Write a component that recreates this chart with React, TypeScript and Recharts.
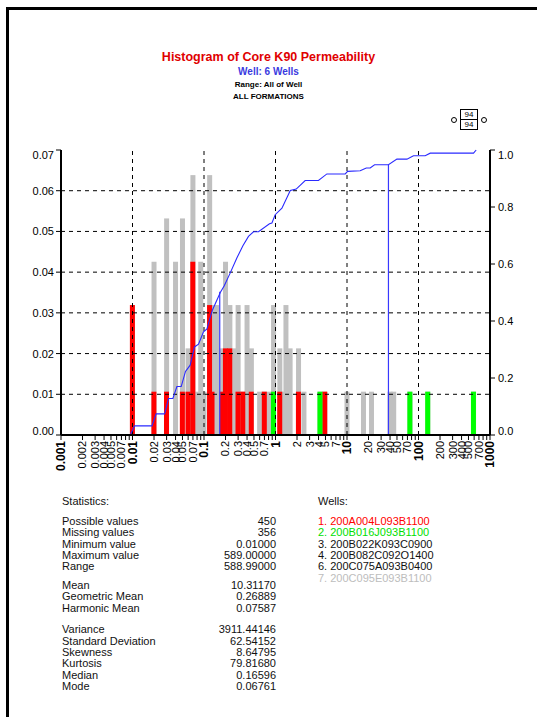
import React from 'react';
import { ComposedChart, Bar, Line, XAxis, YAxis, ReferenceLine } from 'recharts';

const FONT = 'Arial, "Liberation Sans", sans-serif';

const sampleCount = 94;

// permeability bins (mD) and sample counts in each bin
const binValues = [
  0.01, 0.02, 0.03, 0.04, 0.05, 0.06, 0.07, 0.08, 0.09, 0.1,
  0.12, 0.13, 0.15, 0.18, 0.2, 0.23, 0.26, 0.3, 0.35, 0.4,
  0.46, 0.6, 0.7, 0.82, 0.94, 1.15, 1.3, 1.4, 1.6, 2.1,
  2.5, 4.2, 4.9, 10, 17, 22, 40, 45, 76, 135,
  589,
];
const allWellCounts = [
  3, 4, 5, 4, 5, 2, 6, 1, 4, 1,
  6, 3, 3, 2, 4, 3, 2, 3, 1, 3,
  2, 1, 1, 1, 3, 2, 1, 3, 2, 2,
  1, 1, 1, 1, 1, 1, 1, 1, 1, 1,
  1,
];
const well1Counts = [
  3, 1, 1, 0, 1, 1, 4, 0, 0, 0,
  3, 1, 0, 1, 2, 2, 0, 1, 1, 0,
  1, 0, 1, 0, 0, 1, 0, 0, 0, 1,
  0, 0, 1, 0, 0, 0, 0, 0, 0, 0,
  0,
];
const well2Counts = [
  0, 0, 0, 0, 0, 0, 0, 0, 0, 0,
  0, 0, 0, 0, 0, 0, 0, 0, 0, 0,
  0, 0, 0, 0, 1, 0, 0, 0, 0, 0,
  0, 1, 0, 0, 0, 0, 0, 0, 1, 1,
  1,
];

// cumulative curve
const cumX = [
  0.0093, 0.0107, 0.0187, 0.0214, 0.0281, 0.0319, 0.0367, 0.0418, 0.048, 0.0551,
  0.0641, 0.0736, 0.0838, 0.0984, 0.11, 0.13, 0.169, 0.192, 0.232, 0.288,
  0.35, 0.419, 0.492, 0.578, 0.824, 0.891, 0.99, 1.23, 1.61, 1.95,
  2.6, 3.99, 5.23, 9.44, 10.2, 15.3, 18.6, 21.1, 24.3, 38,
  49.9, 68.9, 85.1, 124, 146, 588, 641,
];
const cumY = [
  0, 0.032, 0.032, 0.074, 0.074, 0.128, 0.128, 0.17, 0.17, 0.223,
  0.245, 0.309, 0.319, 0.362, 0.372, 0.436, 0.5, 0.524, 0.568, 0.621,
  0.664, 0.697, 0.713, 0.713, 0.741, 0.744, 0.773, 0.796, 0.858, 0.863,
  0.893, 0.893, 0.916, 0.916, 0.925, 0.927, 0.937, 0.937, 0.948, 0.948,
  0.968, 0.968, 0.98, 0.98, 0.989, 0.989, 1.0,
];

// vertical markers (median and cut-off) up to the curve
const markerX = [0.166, 38];
const markerTop = [0.503, 0.948];

const decades = [0.001, 0.01, 0.1, 1, 10, 100];
const mantissas = [1, 2, 3, 4, 5, 6, 7, 8, 9];
const labelledMantissas = [1, 2, 3, 4, 5, 7];
const leftTicks = [0, 0.01, 0.02, 0.03, 0.04, 0.05, 0.06, 0.07];
const rightTicks = [0, 0.2, 0.4, 0.6, 0.8, 1.0];
const gridX = [0.01, 0.1, 1, 10, 100];
const gridY = [0.01, 0.02, 0.03, 0.04, 0.05, 0.06];

const statsA = ['Possible values', 'Missing values', 'Minimum value', 'Maximum value', 'Range'];
const statsAValues = ['450', '356', '0.01000', '589.00000', '588.99000'];
const statsB = ['Mean', 'Geometric Mean', 'Harmonic Mean'];
const statsBValues = ['10.31170', '0.26889', '0.07587'];
const statsC = ['Variance', 'Standard Deviation', 'Skewness', 'Kurtosis', 'Median', 'Mode'];
const statsCValues = ['3911.44146', '62.54152', '8.64795', '79.81680', '0.16596', '0.06761'];

const wellNames = [
  '1. 200A004L093B1100',
  '2. 200B016J093B1100',
  '3. 200B022K093C0900',
  '4. 200B082C092O1400',
  '6. 200C075A093B0400',
  '7. 200C095E093B1100',
];
const wellColors = ['#ff0000', '#00e000', '#111', '#111', '#111', '#bdbdbd'];

const xTicks = [
  ...decades.flatMap((d) => mantissas.map((m) => Number((m * d).toPrecision(2)))),
  1000,
];

const bins = binValues.map((v, i) => ({
  v,
  all: allWellCounts[i] / sampleCount,
  w1: well1Counts[i] ? well1Counts[i] / sampleCount : null,
  w2: well2Counts[i] ? well2Counts[i] / sampleCount : null,
}));
const cumData = cumX.map((v, i) => ({ v, cum: cumY[i] }));

// bars are a fixed 5px wide, centred on their bin value
const FixedBar = (props: any) => {
  const { x, y, width, height, fill } = props;
  if (!height || height <= 0) return null;
  return <rect x={x + width / 2 - 2.5} y={y} width={5} height={height} fill={fill} />;
};

const XTick = (props: any) => {
  const { x, y, payload } = props;
  const v: number = payload.value;
  const exp = Math.floor(Math.log10(v) + 1e-9);
  const m = Math.round(v / Math.pow(10, exp));
  if (!labelledMantissas.includes(m)) return null;
  const major = m === 1;
  return (
    <g transform={`translate(${x},${y})`}>
      <text
        transform="rotate(-90)"
        textAnchor="end"
        dy="0.36em"
        fontSize={major ? 12 : 11}
        fontWeight={major ? 'bold' : 'normal'}
        fontFamily={FONT}
        fill="#000"
      >
        {String(v)}
      </text>
    </g>
  );
};

const makeYTick = (digits: number, anchor: 'start' | 'end', lo: number, hi: number) => (props: any) => {
  const { x, y, payload } = props;
  const v: number = payload.value;
  const shift = v === lo ? -4 : v === hi ? 5 : 0;
  return (
    <text x={x} y={y + shift} dy="0.36em" textAnchor={anchor} fontSize={11} fontFamily={FONT} fill="#000">
      {v.toFixed(digits)}
    </text>
  );
};

const LeftTick = makeYTick(2, 'end', 0, 0.07);
const RightTick = makeYTick(1, 'start', 0, 1);

const blackAxis = { stroke: '#000', strokeWidth: 2 };

const PermeabilityHistogram = () => {
  const statRow = (label: string, value: string, top: number) => (
    <div key={label} style={{ position: 'absolute', left: 62, top, width: 214, height: 11.35, lineHeight: '11.35px' }}>
      <span>{label}</span>
      <span style={{ position: 'absolute', right: 0 }}>{value}</span>
    </div>
  );

  return (
    <div
      style={{
        position: 'absolute',
        left: 0,
        top: 0,
        width: 537,
        height: 717,
        overflow: 'hidden',
        background: '#fff',
        fontFamily: FONT,
        color: '#111',
      }}
    >
      <div
        style={{
          position: 'absolute',
          left: 6,
          top: 7,
          width: 531,
          height: 710,
          borderLeft: '3px solid #000',
          borderTop: '3px solid #000',
        }}
      />

      <div style={{ position: 'absolute', left: 0, top: 0 }}>
        <ComposedChart width={537} height={717} data={bins} margin={{ top: 150, right: 0, bottom: 232, left: 11 }}>
          <XAxis
            xAxisId="x"
            dataKey="v"
            type="number"
            scale="log"
            domain={[0.001, 1000]}
            allowDataOverflow
            ticks={xTicks}
            interval={0}
            tick={<XTick />}
            tickSize={5}
            tickMargin={1}
            tickLine={{ stroke: '#000' }}
            axisLine={blackAxis}
            height={50}
          />
          <XAxis
            xAxisId="top"
            orientation="top"
            dataKey="v"
            type="number"
            scale="log"
            domain={[0.001, 1000]}
            allowDataOverflow
            tick={false}
            tickLine={false}
            axisLine={blackAxis}
            height={0}
          />
          <XAxis xAxisId="xr" dataKey="v" type="number" scale="log" domain={[0.001, 1000]} allowDataOverflow ticks={xTicks} hide />
          <XAxis xAxisId="xg" dataKey="v" type="number" scale="log" domain={[0.001, 1000]} allowDataOverflow ticks={xTicks} hide />
          <YAxis
            yAxisId="left"
            domain={[0, 0.07]}
            ticks={leftTicks}
            interval={0}
            tick={<LeftTick />}
            tickSize={5}
            tickMargin={2}
            tickLine={{ stroke: '#000' }}
            axisLine={blackAxis}
            width={50}
          />
          <YAxis
            yAxisId="right"
            orientation="right"
            domain={[0, 1]}
            ticks={rightTicks}
            interval={0}
            tick={<RightTick />}
            tickSize={5}
            tickMargin={3}
            tickLine={{ stroke: '#000' }}
            axisLine={blackAxis}
            width={47}
          />

          <Bar xAxisId="x" yAxisId="left" dataKey="all" fill="#c0c0c0" barSize={5} shape={FixedBar} isAnimationActive={false} />
          <Bar xAxisId="xr" yAxisId="left" dataKey="w1" fill="#ff0000" barSize={5} shape={FixedBar} isAnimationActive={false} />
          <Bar xAxisId="xg" yAxisId="left" dataKey="w2" fill="#00ff00" barSize={5} shape={FixedBar} isAnimationActive={false} />

          {gridX.map((g) => (
            <ReferenceLine key={`gx${g}`} xAxisId="x" yAxisId="left" x={g} stroke="#000" strokeDasharray="4 4" />
          ))}
          {gridY.map((g) => (
            <ReferenceLine key={`gy${g}`} xAxisId="x" yAxisId="left" y={g} stroke="#000" strokeDasharray="4 4" />
          ))}

          {markerX.map((mx, i) => (
            <ReferenceLine
              key={`m${mx}`}
              xAxisId="x"
              yAxisId="right"
              segment={[
                { x: mx, y: 0 },
                { x: mx, y: markerTop[i] },
              ]}
              stroke="#3838ff"
              strokeWidth={1.2}
            />
          ))}

          <Line
            xAxisId="x"
            yAxisId="right"
            data={cumData}
            dataKey="cum"
            type="linear"
            stroke="#2a2aff"
            strokeWidth={1.1}
            dot={false}
            isAnimationActive={false}
          />
        </ComposedChart>
      </div>

      <div style={{ position: 'absolute', left: 0, width: 537, top: 49, textAlign: 'center', fontWeight: 'bold' }}>
        <div style={{ color: '#e00000', fontSize: 12.5, lineHeight: '16px' }}>Histogram of Core K90 Permeability</div>
        <div style={{ color: '#3a3ae0', fontSize: 10, lineHeight: '14px' }}>Well: 6 Wells</div>
        <div style={{ color: '#000', fontSize: 8, lineHeight: '11.5px' }}>Range: All of Well</div>
        <div style={{ color: '#000', fontSize: 8, lineHeight: '11.5px' }}>ALL FORMATIONS</div>
      </div>

      <div style={{ position: 'absolute', left: 451, top: 117, width: 4, height: 4, border: '1px solid #000', borderRadius: '50%' }} />
      <div
        style={{
          position: 'absolute',
          left: 460,
          top: 109,
          width: 16,
          height: 19,
          border: '1px solid #000',
          fontSize: 8,
          textAlign: 'center',
          color: '#000',
        }}
      >
        <div style={{ height: 9, lineHeight: '9px', borderBottom: '1px solid #000' }}>94</div>
        <div style={{ height: 9, lineHeight: '10px' }}>94</div>
      </div>
      <div style={{ position: 'absolute', left: 481, top: 117, width: 4, height: 4, border: '1px solid #000', borderRadius: '50%' }} />

      <div style={{ fontSize: 11 }}>
        <div style={{ position: 'absolute', left: 62, top: 496, lineHeight: '11.35px' }}>Statistics:</div>
        {statsA.map((s, i) => statRow(s, statsAValues[i], 516 + i * 11.35))}
        {statsB.map((s, i) => statRow(s, statsBValues[i], 580 + i * 11.35))}
        {statsC.map((s, i) => statRow(s, statsCValues[i], 624.3 + i * 11.35))}

        <div style={{ position: 'absolute', left: 318, top: 495.5, lineHeight: '11.35px' }}>Wells:</div>
        {wellNames.map((w, i) => (
          <div
            key={w}
            style={{ position: 'absolute', left: 318, top: 516 + i * 11.35, lineHeight: '11.35px', color: wellColors[i], whiteSpace: 'nowrap' }}
          >
            {w}
          </div>
        ))}
      </div>
    </div>
  );
};

export default PermeabilityHistogram;
